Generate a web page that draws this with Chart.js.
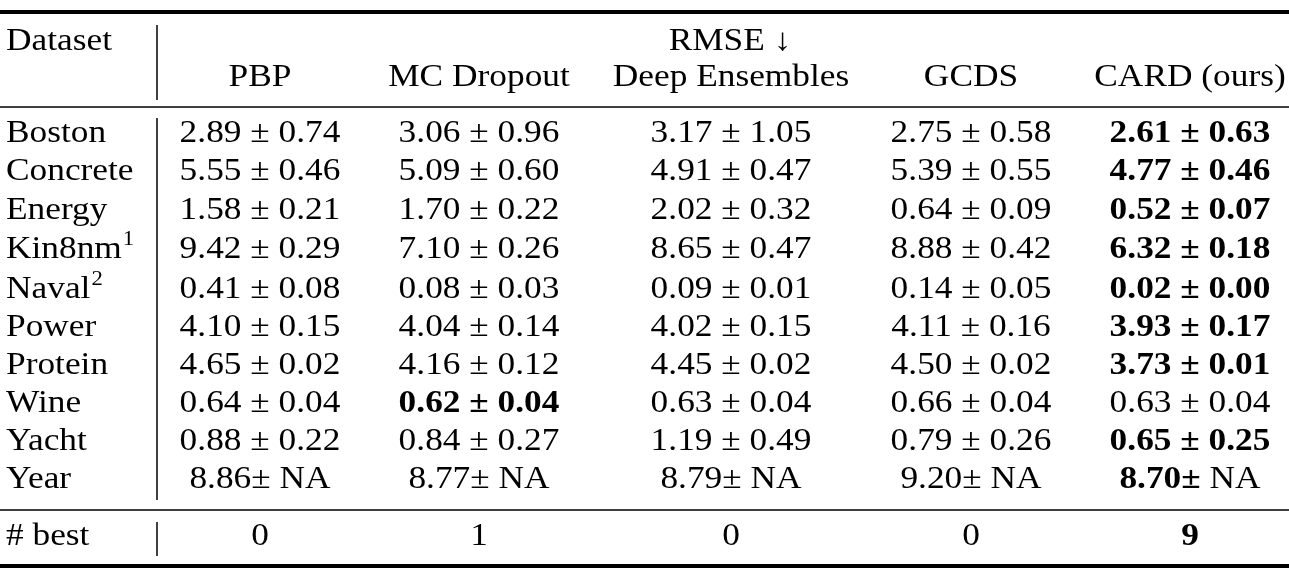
<!DOCTYPE html>
<html>
<head>
<meta charset="utf-8">
<script src="https://cdn.jsdelivr.net/npm/chart.js@4/dist/chart.umd.min.js"></script>
<style>
html, body { margin: 0; padding: 0; background: #fff; }
#wrap { width: 1289px; height: 576px; }
</style>
</head>
<body>
<div id="wrap"><canvas id="chart-table"></canvas></div>
<script>
const datasetNames = ["Boston", "Concrete", "Energy", "Kin8nm", "Naval", "Power", "Protein", "Wine", "Yacht", "Year"];
const datasetSup = ["", "", "", "1", "2", "", "", "", "", ""];
const methods = ["PBP", "MC Dropout", "Deep Ensembles", "GCDS", "CARD (ours)"];
const pbpMean = [2.89, 5.55, 1.58, 9.42, 0.41, 4.10, 4.65, 0.64, 0.88, 8.86];
const pbpStd = [0.74, 0.46, 0.21, 0.29, 0.08, 0.15, 0.02, 0.04, 0.22, null];
const mcMean = [3.06, 5.09, 1.70, 7.10, 0.08, 4.04, 4.16, 0.62, 0.84, 8.77];
const mcStd = [0.96, 0.60, 0.22, 0.26, 0.03, 0.14, 0.12, 0.04, 0.27, null];
const ensMean = [3.17, 4.91, 2.02, 8.65, 0.09, 4.02, 4.45, 0.63, 1.19, 8.79];
const ensStd = [1.05, 0.47, 0.32, 0.47, 0.01, 0.15, 0.02, 0.04, 0.49, null];
const gcdsMean = [2.75, 5.39, 0.64, 8.88, 0.14, 4.11, 4.50, 0.66, 0.79, 9.20];
const gcdsStd = [0.58, 0.55, 0.09, 0.42, 0.05, 0.16, 0.02, 0.04, 0.26, null];
const cardMean = [2.61, 4.77, 0.52, 6.32, 0.02, 3.93, 3.73, 0.63, 0.65, 8.70];
const cardStd = [0.63, 0.46, 0.07, 0.18, 0.00, 0.17, 0.01, 0.04, 0.25, null];
const bestCount = [0, 1, 0, 0, 9];

const means = [pbpMean, mcMean, ensMean, gcdsMean, cardMean];
const stds = [pbpStd, mcStd, ensStd, gcdsStd, cardStd];
const colX = [260, 479, 731, 971, 1190];
const rowY = [134, 172, 211, 250, 290, 328, 366, 404, 442, 480];
const FONT = '"Liberation Serif", "DejaVu Serif", serif';
const STRETCH = 1.14;

const tablePlugin = {
    id: 'tableDraw',
    afterDraw(chart) {
        const ctx = chart.ctx;
        const xs = chart.scales.x, ys = chart.scales.y;
        const X = v => xs.getPixelForValue(v), Y = v => ys.getPixelForValue(v);
        ctx.save();
        ctx.fillStyle = '#000';
        ctx.strokeStyle = '#000';
        // rules
        const hline = (y, w) => { ctx.lineWidth = w; ctx.beginPath(); ctx.moveTo(X(0), Y(y)); ctx.lineTo(X(1289), Y(y)); ctx.stroke(); };
        hline(12, 4); hline(107, 1.5); hline(510, 1.5); hline(566, 4);
        const vline = (y0, y1) => { ctx.lineWidth = 1.5; ctx.beginPath(); ctx.moveTo(X(157), Y(y0)); ctx.lineTo(X(157), Y(y1)); ctx.stroke(); };
        vline(25, 100); vline(118, 500); vline(522, 556);

        ctx.textBaseline = 'middle';
        const setFont = (bold, size) => { ctx.font = (bold ? 'bold ' : '') + (size || 31) + 'px ' + FONT; };
        const width = (s, bold, size) => { setFont(bold, size); return ctx.measureText(s).width * STRETCH; };
        const txt = (s, x, y, align, bold, size) => {
            setFont(bold, size);
            ctx.textAlign = align;
            ctx.save();
            ctx.translate(X(x), Y(y));
            ctx.scale(STRETCH, 1);
            ctx.fillText(s, 0, 0);
            ctx.restore();
        };
        txt('Dataset', 6, 42, 'left');
        txt('RMSE \u2193', 730, 42, 'center');
        methods.forEach((m, j) => txt(m, colX[j], 78, 'center'));

        datasetNames.forEach((name, i) => {
            txt(name, 6, rowY[i], 'left');
            if (datasetSup[i]) {
                const w = width(name);
                txt(datasetSup[i], 6 + w + 1, rowY[i] - 10, 'left', false, 20);
            }
            const row = means.map(a => a[i]);
            const best = Math.min(...row);
            means.forEach((arr, j) => {
                const bold = arr[i] === best;
                const sd = stds[j][i];
                const s = sd === null ? arr[i].toFixed(2) + '\u00b1 NA' : arr[i].toFixed(2) + ' \u00b1 ' + sd.toFixed(2);
                if (sd === null && bold) {
                    const a = arr[i].toFixed(2) + '\u00b1';
                    const wa = width(a, true);
                    const wb = width(' NA');
                    const x0 = colX[j] - (wa + wb) / 2;
                    txt(a, x0, rowY[i], 'left', true);
                    txt(' NA', x0 + wa, rowY[i], 'left');
                } else {
                    txt(s, colX[j], rowY[i], 'center', bold);
                }
            });
        });
        txt('# best', 6, 537, 'left');
        const maxBest = Math.max(...bestCount);
        bestCount.forEach((b, j) => txt(String(b), colX[j], 537, 'center', b === maxBest));
        ctx.restore();
    }
};

var chart_table = new Chart(document.getElementById('chart-table'), {
    type: 'scatter',
    plugins: [tablePlugin],
    data: { datasets: [{ data: [] }] },
    options: {
        responsive: true,
        maintainAspectRatio: false,
        animation: false,
        layout: { padding: 0 },
        plugins: { legend: { display: false }, tooltip: { enabled: false } },
        scales: {
            x: { type: 'linear', min: 0, max: 1289, display: false },
            y: { type: 'linear', min: 0, max: 576, reverse: true, display: false }
        }
    }
});
</script>
</body>
</html>
